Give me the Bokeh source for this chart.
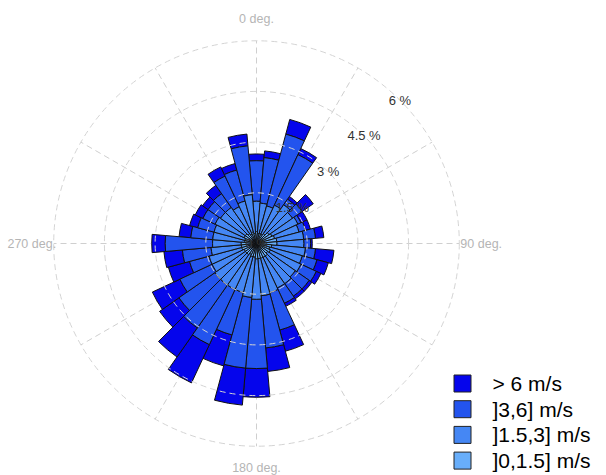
import numpy as np
from bokeh.plotting import figure
from bokeh.models import Range1d, ColumnDataSource
from bokeh.core.properties import value
from bokeh.embed import file_html
from bokeh.resources import INLINE

# ---- data (percent of time per 10-degree sector and speed class) ----
directions = [0, 10, 20, 30, 40, 50, 60, 70, 80, 90, 100, 110, 120, 130, 140, 150, 160, 170,
              180, 190, 200, 210, 220, 230, 240, 250, 260, 270, 280, 290, 300, 310, 320, 330, 340, 350]
speed_0_1_5 = [0.35, 0.3, 0.3, 0.3, 0.35, 0.45, 0.5, 0.55, 0.6, 0.6, 0.45, 0.4, 0.45, 0.4, 0.45, 0.45, 0.45, 0.45,
               0.45, 0.4, 0.4, 0.35, 0.4, 0.4, 0.4, 0.45, 0.45, 0.45, 0.35, 0.35, 0.4, 0.4, 0.35, 0.3, 0.35, 0.3]
speed_1_5_3 = [0.9, 0.9, 0.85, 0.95, 1.05, 0.85, 0.85, 0.75, 0.8, 0.8, 1.0, 1.0, 1.0, 1.0, 1.0, 1.0, 1.05, 1.1,
               1.2, 1.2, 1.1, 1.15, 1.1, 1.1, 1.05, 1.0, 0.9, 0.85, 0.95, 0.95, 0.95, 0.9, 0.95, 0.9, 0.95, 1.15]
speed_3_6 = [1.2, 1.35, 2.2, 1.65, 0.2, 0.35, 0.1, 0.2, 0.35, 0.2, 0.3, 0.45, 0.5, 0.5, 0.45, 0.5, 1.15, 1.55,
             2.05, 2.1, 1.3, 1.8, 1.55, 1.3, 1.05, 0.6, 0.85, 1.4, 0.65, 0.5, 0.4, 0.45, 0.5, 1.0, 0.95, 1.45]
speed_gt_6 = [0.2, 0.2, 0.45, 0.2, 0.1, 0.4, 0.2, 0.15, 0.25, 0.05, 0.55, 0.35, 0.15, 0.1, 0.1, 0.1, 0.65, 0.7,
              0.85, 1.1, 0.95, 1.25, 1.05, 0.7, 0.9, 0.65, 0.55, 0.4, 0.35, 0.25, 0.25, 0.2, 0.3, 0.3, 0.2, 0.35]
class_labels = ["]0,1.5] m/s", "]1.5,3] m/s", "]3,6] m/s", "> 6 m/s"]
class_colors = ["#68AEFA", "#4587F4", "#2354EE", "#0505EC"]
grid_levels = [1.5, 3, 4.5, 6]
grid_labels = ["1.5 %", "3 %", "4.5 %", "6 %"]
spoke_angles = [0, 30, 60, 90, 120, 150, 180, 210, 240, 270, 300, 330]
compass_angles = [0, 90, 180, 270]
compass_labels = ["0 deg.", "90 deg.", "180 deg.", "270 deg."]

# ---- geometry ----
W, H = 606, 475
CX, CY = 256, 243          # centre of rose in pixels
PX = 33.8                  # pixels per percent
FONT = value("Liberation Sans")

p = figure(width=W, height=H, output_backend="svg", toolbar_location=None,
           x_range=Range1d(-CX / PX, (W - CX) / PX),
           y_range=Range1d(-(H - CY) / PX, CY / PX),
           min_border=0, x_axis_type=None, y_axis_type=None)
p.grid.visible = False
p.outline_line_color = None
p.background_fill_color = "white"

# spokes (under bars)
sa = np.radians(spoke_angles)
rmax = max(grid_levels)
p.segment(x0=np.zeros(len(sa)), y0=np.zeros(len(sa)),
          x1=rmax * np.sin(sa), y1=rmax * np.cos(sa),
          line_color="#cfcfcf", line_width=1, line_dash="6 4")

# bars
d = np.array(directions, dtype=float)
start = np.radians(90 - d - 5)
end = np.radians(90 - d + 5)
series = [speed_0_1_5, speed_1_5_3, speed_3_6, speed_gt_6]
inner = np.zeros(len(d))
layers = []
for vals, col in zip(series, class_colors):
    outer = inner + np.array(vals)
    layers.append((inner.copy(), outer.copy(), col))
    inner = outer
for inn, out, col in reversed(layers):
    src = ColumnDataSource(dict(ir=inn, orr=out, s=start, e=end))
    p.annular_wedge(x=0, y=0, inner_radius="ir", outer_radius="orr",
                    start_angle="s", end_angle="e", source=src,
                    fill_color=col, line_color="#111111", line_width=1)

# circles (over bars)
for r in grid_levels:
    p.circle(x=0, y=0, radius=r, fill_color=None, line_color="#d4d4d4",
             line_width=1, line_dash="6 4")

# percent labels along 45 degrees
g = np.array(grid_levels, dtype=float)
p.text(x=list(g * np.sin(np.radians(45))) + [0], y=list(g * np.cos(np.radians(45))) + [0],
       text=grid_labels + ["0 %"], text_font=FONT, text_font_size="13px",
       text_color="#333333", text_align="center", text_baseline="middle")

# compass labels
ca = np.radians(compass_angles)
rl = rmax * 1.108
p.text(x=rl * np.sin(ca), y=rl * np.cos(ca), text=compass_labels, text_font=FONT,
       text_font_size="12.5px", text_color="#b5b5b5", text_align="center", text_baseline="middle")

# legend (top = strongest class)
leg_px_x = 462
leg_text_x = 492
leg_y0, leg_dy = 383, 25.7
for i, (lab, col) in enumerate(zip(reversed(class_labels), reversed(class_colors))):
    py = leg_y0 + i * leg_dy
    yd = (CY - py) / PX
    p.rect(x=(leg_px_x - CX) / PX, y=yd, width=17, height=17, width_units="screen",
           height_units="screen", fill_color=col, line_color="#222222", line_width=1)
    p.text(x=[(leg_text_x - CX) / PX], y=[yd], text=[lab], text_font=FONT,
           text_font_size="21px", text_color="black", text_align="left", text_baseline="middle")

open("out.html", "w").write(file_html(p, INLINE))
